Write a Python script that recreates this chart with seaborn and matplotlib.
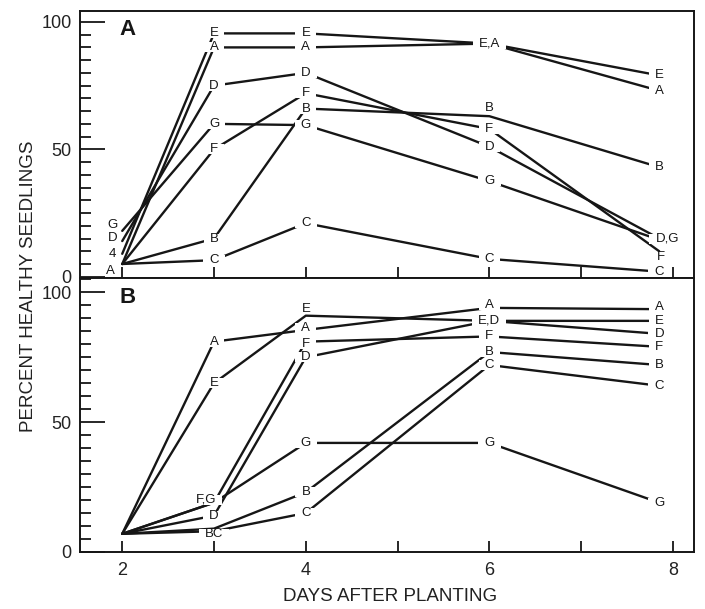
import matplotlib
matplotlib.use("Agg")
import matplotlib.pyplot as plt
from matplotlib.ticker import MultipleLocator
from matplotlib.patches import Rectangle
import seaborn as sns
import pandas as pd

# ---------------- data ----------------
days = [2, 3, 4, 6, 7.85]
series = ["A", "B", "C", "D", "E", "F", "G"]

# Panel A
a_A = [5, 90, 90, 91.5, 73]
a_B = [5, 15, 66, 63, 43]
a_C = [5, 6.5, 21, 7, 2]
a_D = [14, 75, 80, 51, 15]
a_E = [9, 95.5, 95.5, 91.5, 79]
a_F = [5, 50, 72, 58, 10]
a_G = [18, 60, 59.5, 37.5, 14.5]

# Panel B
b_A = [7, 81, 85.5, 94, 93.5]
b_B = [7, 9, 23, 77, 72]
b_C = [7, 8, 15, 72, 64]
b_D = [7, 14, 75, 89, 84]
b_E = [7, 65, 91, 89, 89]
b_F = [7, 19, 81, 83, 79]
b_G = [7, 19, 42, 42, 19]

x_tick_labels = ["2", "", "4", "", "6", "", "8"]
y_ticks = [0, 50, 100]
x_label = "DAYS AFTER PLANTING"
y_label = "PERCENT HEALTHY SEEDLINGS"

# label texts: (series, day index) -> text
labels_A = {
    ("G", 0): "G", ("D", 0): "D", ("E", 0): "4", ("A", 0): "A",
    ("A", 1): "A", ("B", 1): "B", ("C", 1): "C", ("D", 1): "D", ("E", 1): "E", ("F", 1): "F", ("G", 1): "G",
    ("A", 2): "A", ("B", 2): "B", ("C", 2): "C", ("D", 2): "D", ("E", 2): "E", ("F", 2): "F", ("G", 2): "G",
    ("A", 3): "E,A", ("B", 3): "B", ("C", 3): "C", ("D", 3): "D", ("F", 3): "F", ("G", 3): "G",
    ("A", 4): "A", ("B", 4): "B", ("C", 4): "C", ("D", 4): "D,G", ("E", 4): "E", ("F", 4): "F",
}
labels_B = {
    ("A", 1): "A", ("C", 1): "BC", ("D", 1): "D", ("E", 1): "E", ("F", 1): "F,G",
    ("A", 2): "A", ("B", 2): "B", ("C", 2): "C", ("D", 2): "D", ("E", 2): "E", ("F", 2): "F", ("G", 2): "G",
    ("A", 3): "A", ("B", 3): "B", ("C", 3): "C", ("E", 3): "E,D", ("F", 3): "F", ("G", 3): "G",
    ("A", 4): "A", ("B", 4): "B", ("C", 4): "C", ("D", 4): "D", ("E", 4): "E", ("F", 4): "F", ("G", 4): "G",
}
# offsets in pixels for a few labels (styling only)
offsets_A = {("G", 0): (-10, 6), ("D", 0): (-10, 3), ("E", 0): (-10, 0), ("A", 0): (-12, -7),
             ("B", 3): (0, 8), ("D", 4): (8, 0), ("F", 4): (2, -5.5)}
offsets_B = {("F", 1): (-8, 3), ("C", 1): (0, -3), ("E", 2): (0, 7), ("A", 2): (0, 2), ("F", 2): (0, -2),
             ("A", 3): (0, 3), ("A", 4): (0, 2)}

sns.set_style("white")
plt.rcParams["font.family"] = ["Liberation Sans", "DejaVu Sans"]

fig = plt.figure(figsize=(7.05, 6.09), dpi=100)
axA = fig.add_axes([0.1135, 0.5435, 0.871, 0.4385])
axB = fig.add_axes([0.1135, 0.0936, 0.871, 0.4499])

ink = "#161616"
masked = []  # (axes, text) pairs that get a white gap behind them


def long_df(vals):
    rows = []
    for s, v in zip(series, vals):
        for d, y in zip(days, v):
            rows.append({"day": d, "pct": y, "series": s})
    return pd.DataFrame(rows)


def draw(ax, vals, labels, offsets, ylim, letter):
    df = long_df(vals)
    sns.lineplot(data=df, x="day", y="pct", hue="series", units="series", estimator=None,
                 palette={s: ink for s in series}, legend=False, sort=False,
                 linewidth=1.7, ax=ax)
    vmap = dict(zip(series, vals))
    for (s, i), txt in labels.items():
        dx, dy = offsets.get((s, i), (0, 0))
        t = ax.annotate(txt, xy=(days[i], vmap[s][i]), xytext=(dx * 0.72, dy * 0.72),
                        textcoords="offset points", ha="center", va="center",
                        fontsize=9.5, color=ink, zorder=5)
        if i != 0:
            masked.append((ax, t))
    ax.set_xlim(1.54, 8.23)
    ax.set_ylim(*ylim)
    ax.set_yticks(y_ticks)
    ax.set_yticklabels([str(t) for t in y_ticks])
    ax.yaxis.set_minor_locator(MultipleLocator(5))
    ax.set_xticks(list(range(2, 9)))
    ax.tick_params(axis="y", which="both", left=True, right=False)
    ax.tick_params(axis="x", which="both", bottom=True, top=False)
    ax.tick_params(axis="y", which="major", direction="in", length=18, width=1.3,
                   labelsize=13, pad=6, color=ink, labelcolor="#222222")
    ax.tick_params(axis="y", which="minor", direction="in", length=8, width=1.3, color=ink)
    ax.tick_params(axis="x", which="major", direction="in", length=8, width=1.3,
                   labelsize=13, pad=7, color=ink, labelcolor="#222222")
    ax.set_xlabel("")
    ax.set_ylabel("")
    for sp in ax.spines.values():
        sp.set_linewidth(1.4)
        sp.set_color(ink)
    ax.text(2.06, ylim[1] - 7.3 if letter == "A" else 98, letter, fontsize=16, fontweight="bold",
            ha="center", va="center", color=ink, zorder=6)


draw(axA, [a_A, a_B, a_C, a_D, a_E, a_F, a_G], labels_A, offsets_A, (-0.5, 104.3), "A")
draw(axB, [b_A, b_B, b_C, b_D, b_E, b_F, b_G], labels_B, offsets_B, (0, 105.5), "B")

axA.set_xticklabels([""] * 7)
axB.set_xticklabels(x_tick_labels)

fig.text(0.553, 0.02, x_label, ha="center", va="center", fontsize=13.5, color="#222222")
fig.text(0.041, 0.53, y_label, ha="center", va="center", rotation=90, fontsize=13.5, color="#222222")

# white gaps where the lines meet the letter labels
fig.canvas.draw()
renderer = fig.canvas.get_renderer()
for ax, t in masked:
    bb = t.get_window_extent(renderer)
    inv = ax.transData.inverted()
    (x0, y0) = inv.transform((bb.x0 - 6, bb.y0 + 1))
    (x1, y1) = inv.transform((bb.x1 + 6, bb.y1 - 1))
    ax.add_patch(Rectangle((x0, y0), x1 - x0, y1 - y0, facecolor="white", edgecolor="none",
                           zorder=4, clip_on=False))

fig.savefig("out.png", dpi=100)
